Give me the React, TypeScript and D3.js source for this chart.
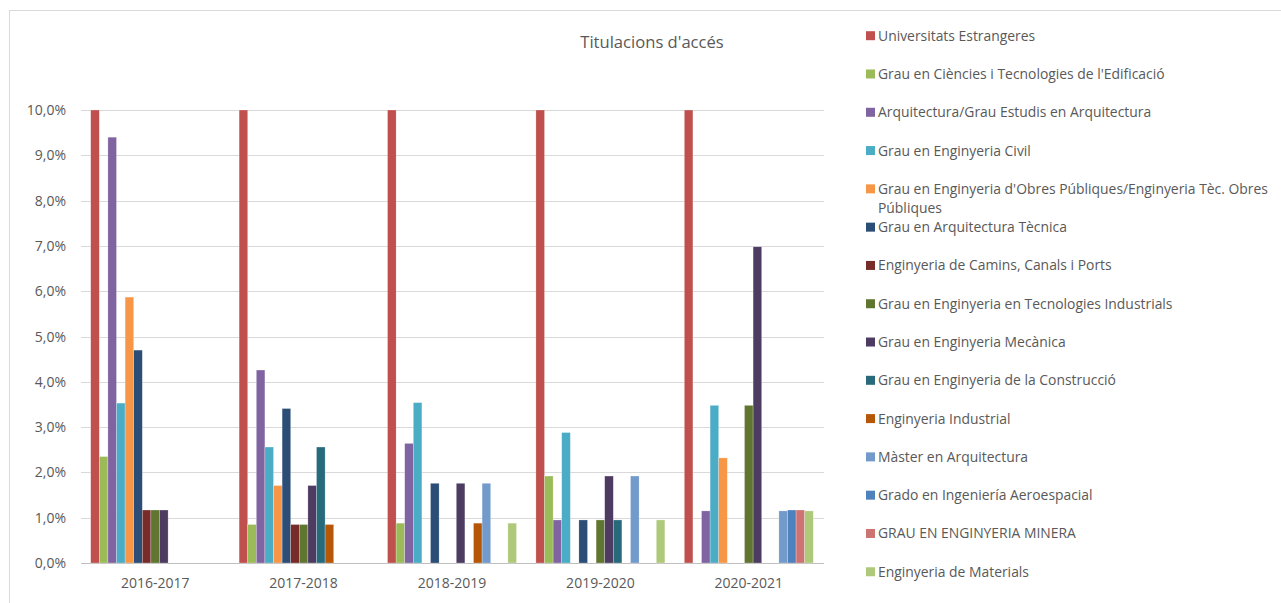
import React from "react";
import * as d3 from "d3";

const categories = ["2016-2017", "2017-2018", "2018-2019", "2019-2020", "2020-2021"];

const seriesNames = [
  "Universitats Estrangeres",
  "Grau en Ciències i Tecnologies de l'Edificació",
  "Arquitectura/Grau Estudis en Arquitectura",
  "Grau en Enginyeria Civil",
  "Grau en Enginyeria d'Obres Públiques/Enginyeria Tèc. Obres Públiques",
  "Grau en Arquitectura Tècnica",
  "Enginyeria de Camins, Canals i Ports",
  "Grau en Enginyeria en Tecnologies Industrials",
  "Grau en Enginyeria Mecànica",
  "Grau en Enginyeria de la Construcció",
  "Enginyeria Industrial",
  "Màster en Arquitectura",
  "Grado en Ingeniería Aeroespacial",
  "GRAU EN ENGINYERIA MINERA",
  "Enginyeria de Materials",
];

// legend labels split into lines as shown
const legendLines = [
  ["Universitats Estrangeres"],
  ["Grau en Ciències i Tecnologies de l'Edificació"],
  ["Arquitectura/Grau Estudis en Arquitectura"],
  ["Grau en Enginyeria Civil"],
  ["Grau en Enginyeria d'Obres Públiques/Enginyeria Tèc. Obres", "Públiques"],
  ["Grau en Arquitectura Tècnica"],
  ["Enginyeria de Camins, Canals i Ports"],
  ["Grau en Enginyeria en Tecnologies Industrials"],
  ["Grau en Enginyeria Mecànica"],
  ["Grau en Enginyeria de la Construcció"],
  ["Enginyeria Industrial"],
  ["Màster en Arquitectura"],
  ["Grado en Ingeniería Aeroespacial"],
  ["GRAU EN ENGINYERIA MINERA"],
  ["Enginyeria de Materials"],
];

const seriesColors = [
  "#C0504D", "#9BBB59", "#8064A2", "#4BACC6", "#F79646",
  "#2C4D75", "#772C2A", "#5F7530", "#4D3B62", "#276A7C",
  "#B65708", "#729ACA", "#4F81BD", "#CD7371", "#AFC97A",
];

// values in % per series (rows) for each category (columns)
const v2016 = [10.0, 2.35, 9.4, 3.53, 5.87, 4.7, 1.17, 1.17, 1.17, 0, 0, 0, 0, 0, 0];
const v2017 = [10.0, 0.85, 4.26, 2.56, 1.71, 3.41, 0.85, 0.85, 1.71, 2.56, 0.85, 0, 0, 0, 0];
const v2018 = [10.0, 0.88, 2.64, 3.54, 0, 1.76, 0, 0, 1.76, 0, 0.88, 1.76, 0, 0, 0.88];
const v2019 = [10.0, 1.92, 0.95, 2.88, 0, 0.95, 0, 0.95, 1.92, 0.95, 0, 1.92, 0, 0, 0.95];
const v2020 = [10.0, 0, 1.15, 3.48, 2.32, 0, 0, 3.48, 6.98, 0, 0, 1.15, 1.17, 1.17, 1.15];
const valuesByCategory = [v2016, v2017, v2018, v2019, v2020];

const yTicks = [0, 1, 2, 3, 4, 5, 6, 7, 8, 9, 10];

const FONT = "'Open Sans', 'Noto Sans', sans-serif";
const TEXT = "#595959";
const GRID = "#d9d9d9";

export default function App() {
  const W = 1281;
  const H = 603;
  const x0 = d3.scaleBand<string>().domain(categories).range([81, 823]).paddingInner(0).paddingOuter(0);
  const x1 = d3
    .scaleBand<number>()
    .domain(d3.range(seriesNames.length))
    .range([0, x0.bandwidth()])
    .paddingInner(0)
    .paddingOuter(1.13);
  const y = d3.scaleLinear().domain([0, 10]).range([563, 110]).clamp(true);
  const fmt = (v: number) => v.toFixed(1).replace(".", ",") + "%";

  const legendY = (i: number) => 35.7 + 38.29 * i;

  return (
    <svg
      width={W}
      height={H}
      style={{ position: "absolute", left: 0, top: 0, background: "#fff" }}
      fontFamily={FONT}
    >
      <rect x={0} y={0} width={W} height={H} fill="#fff" />
      <rect x={9.5} y={10.5} width={W + 20} height={H + 20} fill="none" stroke={GRID} strokeWidth={1} />
      <text x={652} y={48} textAnchor="middle" fontSize={16.6} fill={TEXT}>
        Titulacions d'accés
      </text>

      {yTicks.map((t) => (
        <g key={t}>
          <line x1={81} x2={824} y1={Math.round(y(t)) + 0.5} y2={Math.round(y(t)) + 0.5} stroke={t === 0 ? "#bfbfbf" : GRID} strokeWidth={1} />
          <text x={66} y={y(t) + 5} textAnchor="end" fontSize={14} fill={TEXT}>
            {fmt(t)}
          </text>
        </g>
      ))}

      {categories.map((c, ci) => (
        <g key={c} transform={`translate(${x0(c)},0)`}>
          {valuesByCategory[ci].map((v, si) =>
            v > 0 ? (
              <rect
                key={si}
                x={x1(si)}
                y={y(v)}
                width={x1.bandwidth()}
                height={y(0) - y(v)}
                fill={seriesColors[si]}
                stroke="#ffffff"
                strokeOpacity={0.5}
                strokeWidth={0.5}
              />
            ) : null
          )}
          <text x={x0.bandwidth() / 2} y={588} textAnchor="middle" fontSize={14} fill={TEXT}>
            {c}
          </text>
        </g>
      ))}

      {legendLines.map((lines, i) => (
        <g key={i}>
          <rect x={866} y={legendY(i) - 4.5} width={9} height={9} fill={seriesColors[i]} />
          {lines.map((ln, li) => (
            <text key={li} x={878} y={legendY(i) + 5 + li * 19} fontSize={13.9} fill={TEXT}>
              {ln}
            </text>
          ))}
        </g>
      ))}
    </svg>
  );
}
